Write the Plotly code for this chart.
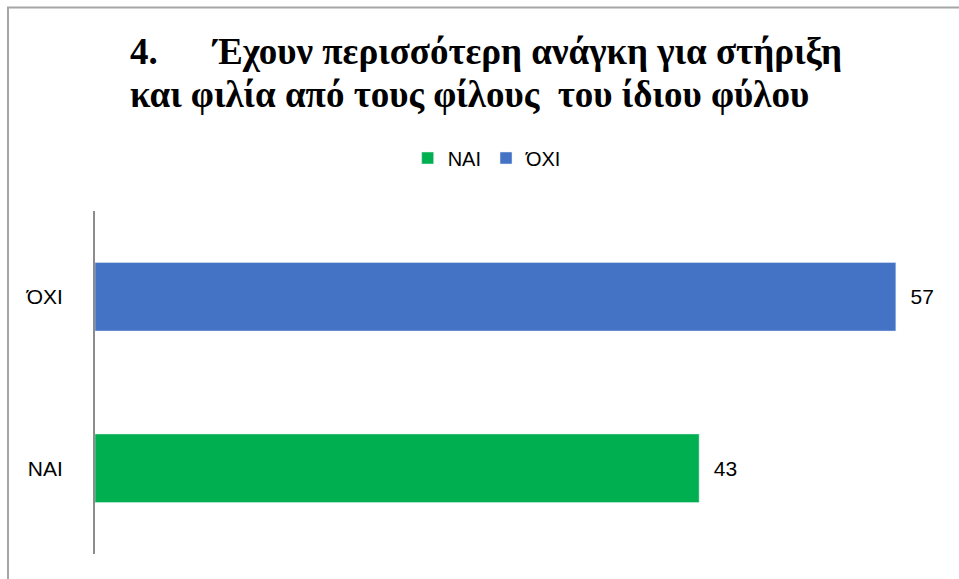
import plotly.graph_objects as go

categories = ["ΝΑΙ", "ΌΧΙ"]
values = [43, 57]
colors = ["#00B050", "#4472C4"]
title_lines = ["4.\u00a0\u00a0\u00a0\u00a0\u00a0\u00a0Έχουν περισσότερη ανάγκη για στήριξη",
               "και φιλία από τους φίλους\u00a0\u00a0του ίδιου φύλου"]

W, H = 959, 579
ml, mr, mt, mb = 95, 21, 211, 25
pw = W - ml - mr
ph = H - mt - mb

fig = go.Figure()
for c, v, col in zip(categories, values, colors):
    fig.add_trace(go.Bar(
        y=[c], x=[v], name=c, orientation="h",
        marker=dict(color=col),
        text=["\u00a0\u00a0" + str(v)], textposition="outside",
        textfont=dict(family="Liberation Sans, Arial", size=21, color="#000000"),
        width=0.4, cliponaxis=False,
    ))

def px2paper_x(px):
    return (px - ml) / pw

def px2paper_y(py):
    return (H - mb - py) / ph

fig.add_shape(type="rect", xref="paper", yref="paper",
              x0=px2paper_x(8), x1=px2paper_x(962),
              y0=px2paper_y(600), y1=px2paper_y(7.5),
              line=dict(color="#A6A6A6", width=2), fillcolor="rgba(0,0,0,0)",
              layer="below")

for i, line in enumerate(title_lines):
    fig.add_annotation(
        text="<b>" + line + "</b>", showarrow=False,
        xref="paper", yref="paper",
        x=px2paper_x(128), xanchor="left",
        y=px2paper_y(52 + 43 * i), yanchor="middle",
        font=dict(family="Liberation Serif, Times New Roman", size=37, color="#000000"),
    )

fig.update_layout(
    width=W, height=H,
    margin=dict(l=ml, r=mr, t=mt, b=mb),
    paper_bgcolor="white", plot_bgcolor="white",
    showlegend=True,
    legend=dict(orientation="h", x=0.508, xanchor="center", xref="container",
                y=1 - 158 / H, yref="container", yanchor="middle",
                font=dict(family="Liberation Sans, Arial", size=20, color="#000000"),
                traceorder="normal", itemwidth=30, tracegroupgap=0),
    barmode="overlay",
    xaxis=dict(range=[0, 60], visible=False, showgrid=False, zeroline=False),
    yaxis=dict(categoryorder="array", categoryarray=categories,
               range=[-0.5, 1.5],
               showline=True, linecolor="#8C8C8C", linewidth=2,
               ticks="", ticklabelstandoff=26,
               tickfont=dict(family="Liberation Sans, Arial", size=21, color="#000000"),
               showgrid=False, zeroline=False),
)

fig.write_html("out.html")
